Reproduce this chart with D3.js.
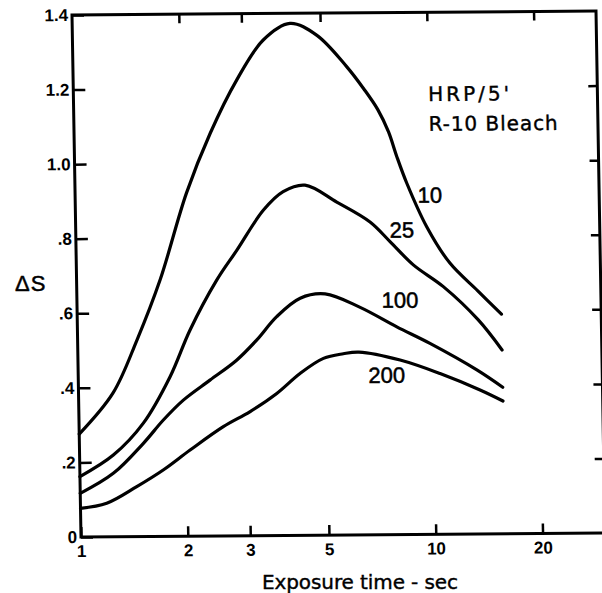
<!DOCTYPE html>
<html>
<head>
<meta charset="utf-8">
<script src="https://cdn.jsdelivr.net/npm/d3@7"></script>
<style>
  body { margin: 0; background: #fff; }
  .tick text { font-family: "Liberation Sans", Arial, sans-serif; font-weight: bold; font-size: 17px; fill: #000; }
  .tick line { stroke: #000; stroke-width: 2.5; }
</style>
</head>
<body>
<div id="chart"></div>
<script>
// -----------------------------------------//
//                 Data
// -----------------------------------------//

// exposure time (sec) and delta S, labelled by bleach level
var time10 = [1, 1.25, 1.47, 1.72, 2.06, 2.42, 2.89, 3.45, 4.11, 4.88, 5.91, 6.6, 7.2, 7.7, 8.1, 8.62, 9.76, 11.3, 13.5, 15.7];
var ds10   = [0.276, 0.385, 0.527, 0.688, 0.920, 1.080, 1.222, 1.329, 1.373, 1.341, 1.256, 1.195, 1.140, 1.080, 1.014, 0.942, 0.825, 0.727, 0.652, 0.589];

var time25 = [1, 1.245, 1.518, 1.815, 2.077, 2.483, 2.84, 3.39, 3.86, 4.45, 5.46, 6.76, 7.68, 8.91, 10.8, 13.5, 15.7];
var ds25   = [0.162, 0.219, 0.304, 0.428, 0.553, 0.686, 0.766, 0.873, 0.922, 0.939, 0.893, 0.839, 0.786, 0.723, 0.664, 0.574, 0.493];

var time100 = [1, 1.242, 1.515, 1.729, 1.973, 2.35, 2.80, 3.20, 3.65, 4.26, 5.01, 6.28, 7.95, 9.84, 13.3, 15.7];
var ds100   = [0.117, 0.170, 0.250, 0.312, 0.365, 0.418, 0.471, 0.525, 0.587, 0.636, 0.647, 0.610, 0.557, 0.512, 0.440, 0.393];

var time200 = [1, 1.186, 1.444, 1.718, 2.05, 2.55, 3.04, 3.62, 4.22, 4.92, 5.60, 6.2, 8.09, 10.47, 13.55, 15.7];
var ds200   = [0.077, 0.090, 0.134, 0.178, 0.231, 0.293, 0.333, 0.381, 0.434, 0.474, 0.486, 0.490, 0.468, 0.431, 0.386, 0.356];

// curve labels and where they sit (data units)
var curveLabels = ["10", "25", "100", "200"];
var labelTime = [10, 8.3, 8.14, 7.41];
var labelDs = [0.91, 0.817, 0.629, 0.428];

// ticks
var xTicks = [1, 2, 3, 5, 10, 20];
var yTicks = [0, 0.2, 0.4, 0.6, 0.8, 1.0, 1.2, 1.4];
var yTickLabels = ["0", ".2", ".4", ".6", ".8", "1.0", "1.2", "1.4"];

// note in the upper right
var noteLines = ["HRP/5'", "R-10 Bleach"];
var noteTime = 10;
var noteDs = [1.162, 1.082];

// -----------------------------------------//
//              SVG Area
// -----------------------------------------//

var svgWidth = 602;
var svgHeight = 593;

var width = 524;
var height = 522;

var svg = d3.select("#chart")
  .append("svg")
  .attr("width", svgWidth)
  .attr("height", svgHeight)
  .style("background", "#fff");

// the scan is slightly skewed, so the plot group gets a small shear
var chartGroup = svg.append("g")
  .attr("transform", "matrix(1, -0.0076, 0.01724, 1, 72, 15)");

var xScale = d3.scaleLog().domain([1, 30]).range([0, width]);
var yScale = d3.scaleLinear().domain([0, 1.4]).range([height, 0]);

// -----------------------------------------//
//              Axes + frame
// -----------------------------------------//

var leftAxis = d3.axisLeft(yScale)
  .tickValues(yTicks)
  .tickFormat((d, i) => yTickLabels[i])
  .tickSizeInner(-12)
  .tickSizeOuter(0)
  .tickPadding(4);

var bottomAxis = d3.axisBottom(xScale)
  .tickValues(xTicks)
  .tickFormat(d3.format("d"))
  .tickSizeInner(-10)
  .tickSizeOuter(0)
  .tickPadding(8);

var topAxis = d3.axisTop(xScale)
  .tickValues(xTicks.slice(1))
  .tickFormat("")
  .tickSizeInner(-9)
  .tickSizeOuter(0);

var rightAxis = d3.axisRight(yScale)
  .tickValues(yTicks.slice(1, 7))
  .tickFormat("")
  .tickSizeInner(-9)
  .tickSizeOuter(0);

chartGroup.append("g").call(leftAxis);
chartGroup.append("g").attr("transform", `translate(0, ${height})`).call(bottomAxis);
chartGroup.append("g").call(topAxis);
chartGroup.append("g").attr("transform", `translate(${width}, 0)`).call(rightAxis);

chartGroup.selectAll(".domain").remove();

chartGroup.append("rect")
  .attr("x", 0)
  .attr("y", 0)
  .attr("width", width)
  .attr("height", height)
  .attr("fill", "none")
  .attr("stroke", "#000")
  .attr("stroke-width", 3);

// -----------------------------------------//
//                Curves
// -----------------------------------------//

var series = [
  { t: time10, v: ds10 },
  { t: time25, v: ds25 },
  { t: time100, v: ds100 },
  { t: time200, v: ds200 }
];

var line = d3.line()
  .x(d => xScale(d[0]))
  .y(d => yScale(d[1]))
  .curve(d3.curveCatmullRom.alpha(0.5));

chartGroup.selectAll(".curve")
  .data(series)
  .enter()
  .append("path")
  .attr("class", "curve")
  .attr("d", s => line(s.t.map((t, i) => [t, s.v[i]])))
  .attr("fill", "none")
  .attr("stroke", "#000")
  .attr("stroke-width", 3.2)
  .attr("stroke-linecap", "round")
  .attr("stroke-linejoin", "round");

chartGroup.selectAll(".curveLabel")
  .data(curveLabels)
  .enter()
  .append("text")
  .attr("class", "curveLabel")
  .attr("x", (d, i) => xScale(labelTime[i]))
  .attr("y", (d, i) => yScale(labelDs[i]))
  .attr("dy", "0.35em")
  .attr("text-anchor", "middle")
  .attr("stroke", "#000")
  .attr("stroke-width", 0.5)
  .style("font-family", "Liberation Sans, Arial, sans-serif")
  .style("font-size", "22px")
  .text(d => d);

// note text
chartGroup.selectAll(".note")
  .data(noteLines)
  .enter()
  .append("text")
  .attr("class", "note")
  .attr("x", xScale(noteTime))
  .attr("y", (d, i) => yScale(noteDs[i]))
  .attr("textLength", (d, i) => i == 0 ? 81 : 129)
  .attr("lengthAdjust", "spacing")
  .attr("stroke", "#000")
  .attr("stroke-width", 0.4)
  .style("font-family", "DejaVu Sans, sans-serif")
  .style("font-size", "20px")
  .text(d => d);

// -----------------------------------------//
//              Axis titles
// -----------------------------------------//

svg.append("text")
  .attr("x", 262)
  .attr("y", 589)
  .attr("textLength", 196)
  .attr("lengthAdjust", "spacing")
  .attr("stroke", "#000")
  .attr("stroke-width", 0.4)
  .style("font-family", "DejaVu Sans, sans-serif")
  .style("font-size", "20px")
  .text("Exposure time - sec");

svg.append("text")
  .attr("x", 15)
  .attr("y", 291)
  .attr("stroke", "#000")
  .attr("stroke-width", 0.5)
  .style("font-family", "Liberation Sans, Arial, sans-serif")
  .style("font-size", "22px")
  .style("letter-spacing", "1px")
  .text("ΔS");
</script>
</body>
</html>
